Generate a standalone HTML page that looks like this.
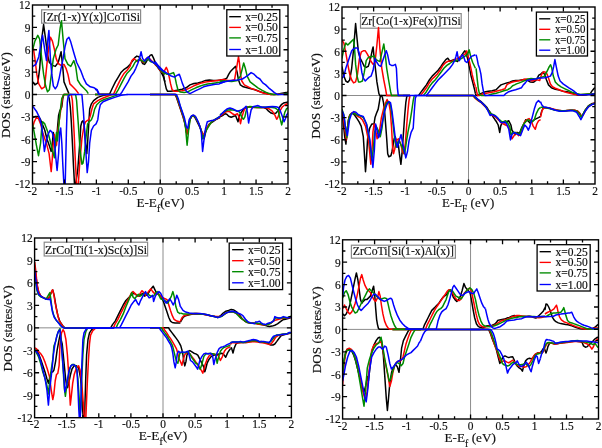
<!DOCTYPE html>
<html><head><meta charset="utf-8"><style>
html,body{margin:0;padding:0;background:#fff;width:602px;height:448px;overflow:hidden}
svg{display:block;will-change:transform;filter:blur(0.3px)}
text{font-family:"Liberation Serif",serif;fill:#111;stroke:#111;stroke-width:0.18px}
.tl{font-size:12px}
.lab{font-size:12px}
.leg{font-size:11.8px}
.ax{font-size:13px}
</style></head><body>
<svg width="602" height="448" viewBox="0 0 602 448">
<defs><clipPath id="cp1"><rect x="32.5" y="5" width="255.5" height="179"/></clipPath><clipPath id="cp2"><rect x="342" y="7" width="253" height="177"/></clipPath><clipPath id="cp3"><rect x="34.6" y="238" width="256.79999999999995" height="179.7"/></clipPath><clipPath id="cp4"><rect x="342.6" y="239.8" width="255.89999999999998" height="179.2"/></clipPath></defs>
<rect width="602" height="448" fill="#fff"/>
<line x1="160.25" y1="5" x2="160.25" y2="184" stroke="#8c8c8c" stroke-width="1.0"/>
<line x1="32.5" y1="94.5" x2="288" y2="94.5" stroke="#8c8c8c" stroke-width="1.0"/>
<rect x="41.6" y="9.8" width="99" height="13.4" fill="#fff" stroke="#8a8a8a" stroke-width="1.2"/>
<text x="42.9" y="20.6" textLength="97" lengthAdjust="spacingAndGlyphs" class="lab">[Zr(1-x)Y(x)]CoTiSi</text>
<g clip-path="url(#cp1)" fill="none" stroke-width="1.5" stroke-linejoin="round">
<path d="M32.9,81.9 L34.9,84.9 L37.8,82.9 L39.7,68.3 L41.7,39.2 L43.6,24.6 L45.6,39.2 L47.5,54.7 L49.4,62.5 L52.4,65.4 L55.3,66.4 L58.2,62.5 L61.1,51.8 L62.7,66.4 L64.0,81.9 L66.0,86.8 L68.9,93.6" stroke="#000000"/>
<path d="M95.0,94.4 L109.6,94.0 L112.5,87.8 L115.4,81.9 L118.3,77.1 L121.2,72.2 L124.2,69.3 L127.1,67.4 L130.0,64.4 L132.9,60.6 L134.9,57.6 L136.8,56.1 L138.8,56.7 L140.7,59.6 L142.6,63.5 L144.6,64.4 L146.5,61.5 L148.5,57.6 L150.4,55.1 L151.8,54.7 L153.3,57.6 L155.3,62.5 L157.2,66.4 L159.2,69.3 L161.1,72.2 L163.1,76.1 L165.0,81.9" stroke="#000000"/>
<path d="M155.0,63.5 L157.9,66.4 L159.9,68.3 L161.8,72.2 L163.8,76.1 L164.7,81.9 L166.3,88.8 L167.6,91.3 L170.6,91.3 L174.4,90.7 L178.3,90.1 L182.2,89.3 L186.1,87.8 L190.0,84.9 L193.9,83.5 L197.8,82.9 L201.7,81.9 L205.6,80.4 L209.4,80.0 L213.3,80.4 L217.2,80.4 L221.1,80.0 L225.0,79.6" stroke="#000000"/>
<path d="M220.0,80.0 L223.9,79.6 L226.8,78.1 L228.8,74.2 L230.7,71.2 L232.6,69.3 L235.6,66.4 L237.1,72.2 L238.5,80.0 L240.4,84.9 L243.3,86.8 L247.2,87.8 L251.1,88.8 L255.0,89.7 L258.9,91.3 L262.8,92.6 L266.7,93.6 L270.6,94.4 L274.4,94.4 L278.3,94.0 L282.2,93.2 L286.1,92.6 L289.0,91.7" stroke="#000000"/>
<path d="M32.5,117.5 L35.3,116.5 L38.5,116.5 L40.6,119.7 L42.7,125.0 L44.8,130.3 L46.9,138.7 L49.1,145.1 L51.2,151.4 L52.2,145.1 L53.3,132.4 L54.4,138.7 L55.4,147.2 L56.5,140.8 L57.5,128.1 L58.6,115.4 L59.7,111.2 L61.8,106.9 L62.8,98.5 L63.9,94.4 L68.1,94.4 L69.2,98.5 L70.3,106.9 L71.3,121.8 L72.4,143.0 L73.4,164.2 L74.5,184.3 L75.6,184.3 L77.7,170.5 L79.8,143.0 L80.8,126.0 L81.9,121.8 L83.0,120.7 L84.0,123.9 L85.5,143.0 L86.8,153.6 L87.6,143.0 L88.9,121.8 L89.7,109.1 L91.4,103.8 L93.6,100.6 L97.8,97.4 L102.0,95.9 L106.3,94.7 L110.5,94.4" stroke="#000000"/>
<path d="M150.0,94.5 L175.0,94.5 L176.5,97.4 L178.6,103.8 L180.8,110.2 L182.9,116.5 L185.0,123.9 L186.5,132.4 L187.8,132.4 L189.2,121.8 L191.4,116.5 L193.5,115.9 L195.6,118.6 L197.7,122.9 L199.8,127.1 L202.0,132.4 L204.1,138.8 L205.6,132.4 L207.3,127.1 L209.4,123.9 L212.6,121.8 L215.8,119.7 L220.0,117.6" stroke="#000000"/>
<path d="M220.0,116.8 L222.5,115.6 L225.0,113.7 L226.8,114.3 L228.7,116.2 L231.2,117.2 L233.7,116.2 L235.6,115.6 L236.8,118.7 L238.0,121.8 L239.3,116.2 L241.2,112.4 L243.7,109.3 L246.1,107.5 L248.6,106.8 L252.4,107.2 L256.1,107.5 L259.9,107.5 L263.6,107.5 L266.1,108.5 L268.6,111.2 L271.1,113.1 L273.6,113.7 L276.0,113.1 L277.9,110.6 L279.8,106.8 L281.7,104.3 L283.5,103.1 L286.0,102.5 L288.5,101.9" stroke="#000000"/>
<path d="M32.9,45.0 L34.9,58.6 L36.8,74.2 L38.8,83.9 L41.7,88.8 L44.6,86.8 L46.5,68.3 L48.5,48.9 L50.4,37.2 L52.4,41.1 L54.3,48.9 L56.2,58.6 L58.2,63.5 L61.1,65.4 L64.0,64.4 L66.0,68.3 L67.9,74.2 L69.9,83.9 L72.8,86.8 L75.7,89.7 L78.6,93.6" stroke="#ff0000"/>
<path d="M95.0,94.4 L113.5,94.4 L116.4,87.8 L118.3,83.9 L121.2,78.1 L124.2,73.2 L127.1,70.3 L130.0,66.4 L131.9,60.6 L133.9,58.6 L135.8,60.2 L137.8,61.5 L139.7,59.6 L141.7,60.6 L143.6,62.5 L145.6,59.6 L147.5,57.6 L149.4,58.6 L151.4,60.6 L153.3,62.5 L155.3,64.4 L157.2,66.4 L159.2,69.3 L162.1,72.2 L165.0,74.2" stroke="#ff0000"/>
<path d="M155.0,64.4 L158.9,68.3 L162.8,72.2 L164.7,70.3 L166.3,67.4 L167.6,70.3 L169.0,76.1 L170.6,83.9 L172.1,89.7 L174.4,91.3 L178.3,91.3 L182.2,90.7 L186.1,89.7 L190.0,87.8 L193.9,85.8 L197.8,84.3 L201.7,82.9 L205.6,81.9 L209.4,81.6 L213.3,81.0 L217.2,80.4 L221.1,80.0 L225.0,79.6" stroke="#ff0000"/>
<path d="M220.0,80.0 L223.9,79.6 L227.8,80.4 L231.7,80.4 L234.6,79.6 L236.5,68.3 L238.5,56.7 L239.4,62.5 L240.4,74.2 L241.8,81.0 L244.3,84.9 L248.2,86.8 L252.1,88.8 L256.0,90.1 L259.9,91.7 L263.8,93.2 L267.6,94.0 L271.5,94.4 L276.4,94.4 L282.2,94.0 L288.1,93.6" stroke="#ff0000"/>
<path d="M32.5,128.1 L34.2,121.8 L36.4,117.5 L38.5,118.6 L40.6,123.9 L42.7,132.4 L44.8,138.7 L46.9,145.1 L49.1,153.6 L51.2,171.6 L52.2,159.9 L53.3,143.0 L54.4,134.5 L55.4,140.8 L56.5,145.1 L57.5,132.4 L59.7,117.5 L61.8,102.7 L62.8,96.4 L63.9,94.4 L71.3,94.4 L72.4,100.6 L74.1,132.4 L75.3,159.9 L76.6,184.3 L78.3,184.3 L79.8,162.0 L81.9,138.7 L84.0,126.0 L85.5,121.8 L87.2,120.7 L88.9,119.7 L90.4,115.4 L91.9,109.1 L93.6,103.8 L97.8,100.6 L102.0,98.5 L106.3,96.8 L112.6,94.4" stroke="#ff0000"/>
<path d="M150.0,94.5 L175.5,94.5 L177.2,98.5 L179.3,104.8 L181.4,111.2 L183.5,117.6 L185.4,125.0 L186.9,134.5 L188.2,130.3 L189.9,119.7 L192.0,115.9 L194.1,115.5 L196.2,118.6 L198.4,122.9 L200.5,128.2 L202.6,134.5 L204.1,133.5 L206.2,129.2 L208.3,126.1 L211.5,121.8 L214.7,119.7 L220.0,117.2" stroke="#ff0000"/>
<path d="M220.0,116.2 L222.5,114.3 L225.0,112.4 L227.5,111.2 L230.0,111.8 L232.4,113.7 L234.9,114.9 L237.4,113.7 L239.3,117.4 L240.5,123.7 L241.8,117.4 L243.7,111.2 L245.5,107.5 L248.6,106.8 L252.4,107.2 L256.1,107.5 L259.9,107.5 L264.8,107.5 L267.3,108.1 L269.8,109.3 L272.3,111.2 L274.8,114.9 L276.7,119.3 L277.9,117.4 L279.8,111.2 L282.3,106.8 L284.8,105.0 L288.5,103.1" stroke="#ff0000"/>
<path d="M32.9,48.9 L34.9,41.1 L37.8,35.3 L39.7,39.2 L41.7,58.6 L43.6,74.2 L45.6,85.8 L47.5,91.7 L49.4,89.7 L51.4,74.2 L53.3,58.6 L56.2,48.9 L58.2,45.0 L60.1,28.5 L61.5,20.7 L63.1,39.2 L65.0,58.6 L67.9,64.4 L70.8,66.4 L73.8,60.6 L75.7,66.4 L77.6,80.0 L80.6,84.9 L83.5,87.8 L86.4,90.7 L88.3,93.6" stroke="#008b00"/>
<path d="M95.0,94.4 L115.4,94.4 L118.3,89.7 L121.2,83.9 L124.2,78.1 L127.1,73.2 L130.0,70.3 L132.9,66.4 L134.9,62.5 L136.8,60.6 L138.8,59.6 L141.7,60.6 L144.6,62.1 L147.5,58.6 L150.4,61.5 L153.3,62.5 L155.3,63.5 L157.2,65.4 L160.1,69.3 L163.1,72.2 L165.0,74.2" stroke="#008b00"/>
<path d="M155.0,63.5 L158.9,68.3 L162.8,72.2 L166.7,74.2 L170.6,73.8 L173.5,72.6 L174.8,76.1 L176.4,83.9 L177.9,89.7 L180.3,92.1 L184.2,92.6 L188.1,91.7 L191.9,89.7 L195.8,87.8 L199.7,86.2 L203.6,84.9 L207.5,83.9 L211.4,83.5 L215.3,82.9 L219.2,82.3 L223.1,81.6 L225.0,81.0" stroke="#008b00"/>
<path d="M220.0,81.0 L225.8,81.0 L231.7,81.6 L237.5,80.4 L240.4,76.1 L242.4,68.3 L243.7,62.9 L245.3,68.3 L247.2,76.1 L250.1,81.9 L254.0,84.9 L257.9,87.8 L261.8,90.1 L265.7,92.1 L269.6,93.6 L273.5,94.4 L278.3,94.4 L284.2,94.0 L289.0,93.2" stroke="#008b00"/>
<path d="M32.5,123.9 L34.2,132.4 L36.4,145.1 L38.5,155.7 L40.6,143.0 L41.7,128.1 L42.7,121.8 L44.8,123.9 L48.0,132.4 L50.1,140.8 L52.2,149.3 L54.4,157.8 L55.4,143.0 L56.5,132.4 L57.5,140.8 L59.7,115.4 L61.8,98.5 L63.9,94.4 L75.6,94.4 L76.6,100.6 L78.3,123.9 L80.0,149.3 L81.9,164.2 L83.0,163.1 L84.7,151.4 L86.1,136.6 L87.6,123.9 L89.3,121.8 L91.4,119.7 L93.1,115.4 L94.6,109.1 L96.7,104.8 L99.9,101.7 L104.2,99.5 L110.5,97.4 L119.0,94.4" stroke="#008b00"/>
<path d="M150.0,94.5 L175.9,94.5 L177.6,98.5 L179.7,104.8 L181.8,111.2 L183.9,117.6 L185.6,128.2 L187.1,145.2 L188.6,130.3 L190.3,118.6 L192.4,115.5 L194.5,115.9 L196.7,119.3 L198.8,123.5 L200.9,129.2 L202.6,138.8 L204.1,135.6 L206.2,130.3 L208.3,127.1 L211.5,121.8 L214.7,119.7 L220.0,116.5" stroke="#008b00"/>
<path d="M220.0,114.9 L222.5,113.1 L225.0,111.2 L227.5,110.0 L230.6,109.7 L233.1,110.0 L235.6,110.6 L237.4,111.2 L239.3,111.8 L240.5,113.7 L241.8,117.4 L243.4,119.3 L244.9,116.8 L246.1,111.2 L247.4,107.5 L249.9,106.5 L252.4,106.8 L256.1,107.2 L261.1,107.5 L264.8,107.2 L268.6,107.2 L272.3,107.5 L275.4,108.1 L277.9,110.0 L279.8,117.4 L281.7,124.9 L282.9,119.9 L284.8,112.4 L286.6,108.7 L288.5,107.5" stroke="#008b00"/>
<path d="M32.9,66.4 L35.8,64.4 L38.8,56.7 L40.7,45.0 L42.6,35.3 L44.6,48.9 L46.5,60.6 L47.9,39.2 L48.9,30.4 L50.4,58.6 L51.8,74.2 L53.3,85.8 L55.3,88.8 L57.2,85.8 L59.2,78.1 L61.1,68.3 L63.1,58.6 L65.0,46.9 L66.9,39.2 L68.9,37.2 L70.8,42.1 L73.8,52.8 L76.7,62.5 L80.6,70.3 L83.5,78.1 L86.4,83.9 L90.3,86.8 L94.2,87.8 L97.1,89.7 L99.0,93.6" stroke="#0000ff"/>
<path d="M95.0,89.3 L96.9,90.1 L98.9,94.4 L120.3,94.4 L122.2,91.7 L125.1,86.8 L128.1,81.9 L131.0,76.1 L133.9,72.2 L135.8,68.3 L137.8,63.5 L139.7,57.6 L141.1,51.8 L142.6,58.6 L144.6,60.9 L146.5,58.6 L148.5,56.7 L150.4,60.6 L153.3,62.5 L156.2,64.4 L159.2,68.3 L162.1,70.3 L165.0,72.2" stroke="#0000ff"/>
<path d="M155.0,61.5 L158.9,66.4 L162.8,70.3 L166.7,73.2 L170.6,75.7 L174.4,77.1 L177.4,75.1 L179.3,74.2 L180.7,78.1 L182.2,82.9 L184.2,87.8 L186.1,90.7 L188.1,92.6 L190.0,93.6 L191.9,92.6 L195.8,90.7 L199.7,88.8 L203.6,86.8 L207.5,85.8 L211.4,84.9 L215.3,84.3 L219.2,83.9 L223.1,82.3 L225.0,81.6" stroke="#0000ff"/>
<path d="M220.0,82.9 L225.8,81.6 L231.7,80.4 L237.5,80.0 L242.4,79.0 L245.3,77.1 L248.2,75.1 L251.1,72.6 L254.0,74.2 L256.9,77.1 L259.9,79.0 L262.8,82.9 L265.7,84.9 L268.6,87.8 L271.5,90.1 L274.4,92.6 L277.4,94.4 L282.2,94.4 L288.1,94.4" stroke="#0000ff"/>
<path d="M32.5,105.9 L36.4,111.2 L39.5,117.5 L41.7,126.0 L43.1,138.7 L44.4,151.4 L45.9,143.0 L48.0,134.5 L50.1,130.3 L52.2,132.4 L54.4,140.8 L55.8,157.8 L57.1,170.5 L58.6,153.6 L59.7,132.4 L60.7,128.1 L61.8,143.0 L62.8,164.2 L63.9,184.3 L65.2,184.3 L66.4,132.4 L67.3,102.7 L68.1,96.4 L70.3,94.4 L81.9,94.4 L83.4,111.2 L84.7,132.4 L85.7,149.3 L87.2,172.6 L88.5,162.0 L89.7,143.0 L91.4,130.3 L93.6,126.0 L96.1,123.9 L97.8,119.7 L98.9,111.2 L100.3,104.8 L103.1,101.7 L108.4,99.5 L114.7,97.4 L121.1,95.3 L127.5,94.4" stroke="#0000ff"/>
<path d="M126.7,94.5 L176.5,94.5 L178.2,98.5 L180.3,105.9 L182.5,112.3 L184.6,118.6 L186.5,127.1 L187.8,128.2 L189.2,119.7 L191.4,115.9 L193.5,115.0 L195.6,116.5 L197.7,120.8 L199.8,126.1 L201.3,132.4 L202.6,151.5 L204.1,138.8 L205.6,128.2 L207.3,121.8 L210.5,120.8 L213.6,120.3 L216.8,118.6 L220.0,116.5" stroke="#0000ff"/>
<path d="M220.0,115.6 L222.5,113.1 L225.0,110.6 L227.5,108.7 L230.0,108.1 L232.4,108.7 L234.9,110.0 L237.4,111.2 L239.9,110.6 L242.4,109.3 L244.9,107.5 L246.1,106.2 L247.4,112.4 L248.6,123.0 L249.9,116.2 L251.1,110.0 L253.0,106.8 L256.1,106.0 L258.0,105.6 L259.9,106.5 L262.3,107.2 L264.8,107.2 L268.6,106.8 L272.3,106.5 L276.0,106.8 L278.5,107.5 L280.4,111.2 L282.3,116.2 L284.1,121.8 L285.4,118.7 L286.6,114.9 L288.5,112.4" stroke="#0000ff"/>
</g>
<rect x="32.5" y="5" width="255.5" height="179" fill="none" stroke="#000" stroke-width="1.4"/>
<path d="M48.47,184v-2.8M48.47,5v2.8M64.44,184v-4.5M64.44,5v4.5M80.41,184v-2.8M80.41,5v2.8M96.38,184v-4.5M96.38,5v4.5M112.34,184v-2.8M112.34,5v2.8M128.31,184v-4.5M128.31,5v4.5M144.28,184v-2.8M144.28,5v2.8M160.25,184v-4.5M160.25,5v4.5M176.22,184v-2.8M176.22,5v2.8M192.19,184v-4.5M192.19,5v4.5M208.16,184v-2.8M208.16,5v2.8M224.12,184v-4.5M224.12,5v4.5M240.09,184v-2.8M240.09,5v2.8M256.06,184v-4.5M256.06,5v4.5M272.03,184v-2.8M272.03,5v2.8M32.5,172.81h2.8M288,172.81h-2.8M32.5,161.62h4.5M288,161.62h-4.5M32.5,150.44h2.8M288,150.44h-2.8M32.5,139.25h4.5M288,139.25h-4.5M32.5,128.06h2.8M288,128.06h-2.8M32.5,116.88h4.5M288,116.88h-4.5M32.5,105.69h2.8M288,105.69h-2.8M32.5,94.5h4.5M288,94.5h-4.5M32.5,83.31h2.8M288,83.31h-2.8M32.5,72.12h4.5M288,72.12h-4.5M32.5,60.94h2.8M288,60.94h-2.8M32.5,49.75h4.5M288,49.75h-4.5M32.5,38.56h2.8M288,38.56h-2.8M32.5,27.38h4.5M288,27.38h-4.5M32.5,16.19h2.8M288,16.19h-2.8" stroke="#000" stroke-width="1.3" fill="none"/>
<text x="30.5" y="188.4" text-anchor="end" textLength="15.20" lengthAdjust="spacingAndGlyphs" class="tl">-12</text>
<text x="30.5" y="166.03" text-anchor="end" textLength="9.50" lengthAdjust="spacingAndGlyphs" class="tl">-9</text>
<text x="30.5" y="143.65" text-anchor="end" textLength="9.50" lengthAdjust="spacingAndGlyphs" class="tl">-6</text>
<text x="30.5" y="121.28" text-anchor="end" textLength="9.50" lengthAdjust="spacingAndGlyphs" class="tl">-3</text>
<text x="30.5" y="98.9" text-anchor="end" textLength="5.70" lengthAdjust="spacingAndGlyphs" class="tl">0</text>
<text x="30.5" y="76.53" text-anchor="end" textLength="5.70" lengthAdjust="spacingAndGlyphs" class="tl">3</text>
<text x="30.5" y="54.15" text-anchor="end" textLength="5.70" lengthAdjust="spacingAndGlyphs" class="tl">6</text>
<text x="30.5" y="31.77" text-anchor="end" textLength="5.70" lengthAdjust="spacingAndGlyphs" class="tl">9</text>
<text x="30.5" y="9.4" text-anchor="end" textLength="11.40" lengthAdjust="spacingAndGlyphs" class="tl">12</text>
<text x="32.5" y="194.6" text-anchor="middle" textLength="9.50" lengthAdjust="spacingAndGlyphs" class="tl">-2</text>
<text x="64.44" y="194.6" text-anchor="middle" textLength="18.05" lengthAdjust="spacingAndGlyphs" class="tl">-1.5</text>
<text x="96.38" y="194.6" text-anchor="middle" textLength="9.50" lengthAdjust="spacingAndGlyphs" class="tl">-1</text>
<text x="128.31" y="194.6" text-anchor="middle" textLength="18.05" lengthAdjust="spacingAndGlyphs" class="tl">-0.5</text>
<text x="160.25" y="194.6" text-anchor="middle" textLength="5.70" lengthAdjust="spacingAndGlyphs" class="tl">0</text>
<text x="192.19" y="194.6" text-anchor="middle" textLength="14.25" lengthAdjust="spacingAndGlyphs" class="tl">0.5</text>
<text x="224.12" y="194.6" text-anchor="middle" textLength="5.70" lengthAdjust="spacingAndGlyphs" class="tl">1</text>
<text x="256.06" y="194.6" text-anchor="middle" textLength="14.25" lengthAdjust="spacingAndGlyphs" class="tl">1.5</text>
<text x="288" y="194.6" text-anchor="middle" textLength="5.70" lengthAdjust="spacingAndGlyphs" class="tl">2</text>
<rect x="226.8" y="9.7" width="53" height="46.3" fill="#fff" stroke="#000" stroke-width="1.3"/>
<line x1="229.2" y1="16.7" x2="240.9" y2="16.7" stroke="#000000" stroke-width="1.35"/>
<text x="245.2" y="20.7" textLength="32.6" lengthAdjust="spacingAndGlyphs" class="leg">x=0.25</text>
<line x1="229.2" y1="27.4" x2="240.9" y2="27.4" stroke="#ff0000" stroke-width="1.35"/>
<text x="245.2" y="31.4" textLength="32.6" lengthAdjust="spacingAndGlyphs" class="leg">x=0.50</text>
<line x1="229.2" y1="37.9" x2="240.9" y2="37.9" stroke="#008b00" stroke-width="1.35"/>
<text x="245.2" y="41.9" textLength="32.6" lengthAdjust="spacingAndGlyphs" class="leg">x=0.75</text>
<line x1="229.2" y1="49.5" x2="240.9" y2="49.5" stroke="#0000ff" stroke-width="1.35"/>
<text x="245.2" y="53.5" textLength="32.6" lengthAdjust="spacingAndGlyphs" class="leg">x=1.00</text>
<text x="136.4" y="206.6" textLength="47.9" lengthAdjust="spacingAndGlyphs" class="ax">E-E<tspan dy="4.9" font-size="9.6">f</tspan><tspan dy="-4.9">(eV)</tspan></text>
<text transform="translate(10,138.1) rotate(-90)" x="0" y="0" textLength="85.9" lengthAdjust="spacingAndGlyphs" class="ax">DOS (states/eV)</text>
<line x1="468.5" y1="7" x2="468.5" y2="184" stroke="#8c8c8c" stroke-width="1.0"/>
<line x1="342" y1="95.5" x2="595" y2="95.5" stroke="#8c8c8c" stroke-width="1.0"/>
<rect x="360.5" y="13.6" width="100.7" height="14.6" fill="#fff" stroke="#8a8a8a" stroke-width="1.2"/>
<text x="361.2" y="24.7" textLength="99.6" lengthAdjust="spacingAndGlyphs" class="lab">Zr[Co(1-x)Fe(x)]TiSi</text>
<g clip-path="url(#cp2)" fill="none" stroke-width="1.5" stroke-linejoin="round">
<path d="M341.9,66.4 L343.9,76.1 L345.8,81.0 L347.8,82.3 L349.7,80.0 L351.7,68.3 L353.6,48.9 L355.6,23.6 L357.1,39.2 L358.5,52.8 L360.4,58.6 L362.4,62.5 L364.3,66.4 L366.2,67.4 L368.2,66.4 L370.1,60.6 L372.1,50.8 L373.1,46.9 L374.0,56.7 L375.4,68.3 L376.9,81.9 L378.9,93.6 L379.9,95.6 L410.0,95.6" stroke="#000000"/>
<path d="M418.6,95.4 L420.6,92.6 L423.5,88.8 L426.4,84.9 L429.3,80.0 L432.2,76.1 L435.1,73.2 L438.1,70.3 L441.0,66.4 L442.9,63.5 L445.8,59.6 L447.8,58.2 L449.7,60.9 L451.7,60.6 L453.6,59.6 L455.6,60.6 L457.5,61.5 L459.4,58.6 L461.4,55.7 L463.3,52.8 L464.9,50.8 L466.2,53.8 L467.6,58.6 L469.2,66.4 L471.1,76.1 L473.1,83.9 L474.6,89.7 L475.4,93.6" stroke="#000000"/>
<path d="M475.3,93.6 L476.3,95.6 L477.6,95.6 L480.6,93.6 L484.4,92.1 L488.3,91.3 L492.2,90.7 L496.1,89.7 L499.0,86.8 L501.0,84.9 L503.9,83.9 L506.8,82.9 L509.7,82.3 L512.6,81.0 L515.6,80.4 L518.5,80.4 L521.4,80.0 L524.3,79.6 L527.2,80.0 L530.1,81.9 L533.1,82.3 L535.4,81.0" stroke="#000000"/>
<path d="M535.4,81.0 L536.8,79.0 L538.8,75.1 L540.7,74.2 L542.6,72.2 L544.6,74.2 L546.5,80.0 L548.5,84.9 L551.4,87.8 L555.3,89.3 L559.2,90.1 L563.1,91.3 L566.9,91.7 L570.8,92.6 L574.7,94.0 L578.6,95.2 L582.5,95.2 L586.4,94.8 L590.3,93.6 L592.2,90.7 L594.2,88.2 L596.1,87.8" stroke="#000000"/>
<path d="M341.9,113.3 L343.2,121.8 L344.7,136.7 L345.9,144.1 L347.4,128.2 L348.9,117.6 L350.6,114.4 L352.7,113.3 L354.9,115.5 L357.0,118.6 L359.1,121.8 L361.2,126.1 L363.3,136.7 L364.4,153.7 L365.5,171.7 L366.5,157.9 L367.6,138.8 L369.7,128.2 L371.8,124.0 L374.0,124.0 L375.0,117.6 L376.5,113.3 L378.2,109.1 L379.3,102.7 L380.3,96.4 L381.4,95.5 L382.4,97.4 L383.5,102.7 L384.6,111.2 L385.6,124.0 L386.7,138.8 L387.7,153.7 L388.8,156.8 L390.9,155.8 L392.0,151.5 L393.1,145.2 L394.1,138.8 L395.2,136.7 L396.2,139.9 L397.3,143.1 L398.4,145.2 L399.4,153.7 L400.9,164.3 L402.0,153.7 L403.2,136.7 L404.7,115.5 L405.8,102.7 L406.8,96.4 L407.9,95.5" stroke="#000000"/>
<path d="M426.0,95.5 L472.7,95.5 L474.9,97.4 L478.0,99.5 L481.2,101.7 L484.4,104.9 L486.5,107.0 L488.6,110.2 L490.8,113.3 L492.9,116.5 L495.0,119.7 L496.5,121.8 L498.2,125.0 L499.7,132.4 L500.7,126.1 L502.4,121.8 L504.6,122.9 L506.7,121.8 L508.8,120.8 L510.9,125.0 L512.0,130.3 L513.5,132.4 L515.2,134.6 L517.3,132.4 L519.4,133.5 L521.5,128.2 L523.7,124.0 L525.8,119.7 L527.9,120.8 L530.0,122.9 L532.1,121.8 L534.3,119.7 L536.4,118.6 L538.5,117.6 L540.6,116.5" stroke="#000000"/>
<path d="M540.6,115.5 L541.7,111.2 L543.2,108.0 L545.9,107.4 L549.1,108.0 L553.3,109.5 L557.6,110.2 L561.8,110.8 L566.1,110.8 L570.3,110.2 L574.5,110.2 L577.7,111.2 L579.8,113.3 L581.3,116.5 L583.0,114.4 L585.2,110.2 L588.3,105.9 L591.5,103.8 L595.8,102.7" stroke="#000000"/>
<path d="M341.9,40.1 L343.9,43.1 L345.8,52.8 L347.8,64.4 L349.7,74.2 L351.7,80.0 L353.6,82.9 L355.6,81.9 L357.5,74.2 L359.4,58.6 L361.4,51.8 L363.3,50.8 L365.3,50.8 L367.2,53.8 L369.2,57.6 L371.1,61.5 L373.1,64.4 L375.0,62.5 L376.9,45.0 L378.5,27.5 L379.9,48.9 L381.8,68.3 L383.8,80.0 L385.7,89.7 L386.7,95.6 L410.0,95.6" stroke="#ff0000"/>
<path d="M420.6,95.4 L423.5,91.7 L426.4,87.8 L429.3,82.9 L432.2,79.0 L434.2,77.1 L437.1,74.2 L440.0,70.3 L442.9,65.4 L445.8,62.5 L448.8,60.9 L451.7,61.5 L454.6,59.6 L457.5,58.6 L460.4,56.7 L463.3,55.1 L465.3,53.8 L466.8,50.8 L468.2,56.7 L470.1,64.4 L472.1,74.2 L474.0,81.9 L475.4,86.8" stroke="#ff0000"/>
<path d="M475.9,86.8 L476.7,91.7 L477.6,95.6 L479.6,95.6 L482.5,94.0 L486.4,93.2 L490.3,92.6 L494.2,91.7 L498.1,90.7 L501.9,89.7 L504.9,88.8 L506.8,84.9 L508.8,83.5 L511.7,82.3 L514.6,81.6 L517.5,81.0 L520.4,80.4 L523.3,79.6 L526.2,79.0 L529.2,79.6 L532.1,81.0 L535.4,80.0" stroke="#ff0000"/>
<path d="M535.4,80.0 L537.8,80.0 L539.7,80.4 L541.7,74.2 L543.6,71.8 L545.6,72.2 L547.1,74.2 L548.5,78.1 L550.4,83.9 L552.4,86.8 L555.3,88.2 L559.2,89.7 L563.1,91.3 L566.9,92.6 L570.8,93.6 L574.7,94.4 L578.6,94.8 L584.4,94.4 L590.3,94.0 L596.1,93.6" stroke="#ff0000"/>
<path d="M341.9,110.2 L343.2,115.5 L344.7,128.2 L346.4,139.9 L348.1,121.8 L349.5,115.5 L351.7,112.9 L353.8,112.3 L355.9,114.4 L358.0,116.5 L360.2,117.6 L362.3,119.7 L365.5,126.1 L368.6,140.9 L370.8,164.3 L371.8,153.7 L372.9,132.4 L374.0,124.0 L375.0,126.1 L377.1,138.8 L379.3,132.4 L381.4,117.6 L383.5,109.1 L385.6,102.7 L387.1,99.5 L388.8,102.7 L390.3,111.2 L391.6,128.2 L392.6,147.3 L393.5,153.7 L394.7,149.4 L396.2,140.9 L398.4,138.8 L400.5,143.1 L402.6,151.5 L403.7,153.7 L405.4,143.1 L406.8,124.0 L407.9,111.2 L409.0,100.6 L410.0,95.5" stroke="#ff0000"/>
<path d="M426.0,95.5 L473.2,95.5 L475.3,98.5 L478.0,100.6 L481.2,102.7 L484.4,105.9 L486.5,108.0 L488.6,111.2 L490.8,114.4 L492.9,115.5 L495.0,116.5 L497.1,118.6 L499.3,120.8 L501.4,122.9 L503.5,124.0 L505.6,125.0 L507.7,126.1 L509.9,130.3 L512.0,138.8 L514.1,135.6 L516.2,132.4 L518.4,135.6 L520.5,133.5 L522.6,127.1 L524.7,121.8 L526.8,119.7 L529.0,118.6 L531.1,120.8 L533.2,126.1 L535.3,129.3 L536.8,124.0 L538.5,120.8 L540.6,119.7" stroke="#ff0000"/>
<path d="M540.6,117.2 L541.9,111.2 L543.2,108.7 L544.8,107.4 L549.1,108.0 L553.3,109.1 L557.6,110.2 L561.8,110.8 L566.1,110.6 L570.3,110.2 L574.5,110.2 L577.7,111.2 L580.3,114.4 L582.0,116.5 L584.1,113.3 L586.2,109.1 L589.4,105.9 L592.6,103.8 L595.8,102.7" stroke="#ff0000"/>
<path d="M341.9,58.6 L343.9,48.9 L345.8,43.1 L347.8,45.0 L349.7,43.1 L351.7,41.1 L353.6,39.2 L354.6,48.9 L355.6,64.4 L357.1,76.1 L358.5,81.9 L360.4,81.9 L362.4,81.0 L364.3,72.2 L366.2,60.6 L368.2,57.6 L370.1,56.7 L372.1,56.7 L374.0,55.7 L376.0,59.6 L377.9,60.6 L379.9,61.5 L381.8,52.8 L383.8,44.0 L385.1,52.8 L386.7,68.3 L388.6,80.0 L390.6,91.7 L391.5,95.6 L410.0,95.6" stroke="#008b00"/>
<path d="M423.5,95.4 L426.4,91.7 L429.3,86.8 L432.2,82.9 L435.1,80.0 L438.1,76.1 L441.0,72.2 L443.9,68.3 L446.8,65.4 L449.7,63.5 L452.6,61.5 L455.6,60.9 L458.5,59.6 L461.4,58.6 L464.3,56.7 L467.2,54.7 L469.2,49.9 L470.7,56.7 L472.7,62.5 L475.4,68.3" stroke="#008b00"/>
<path d="M476.1,68.3 L477.1,78.1 L478.2,87.8 L479.6,94.6 L481.5,95.6 L484.4,95.6 L488.3,95.2 L492.2,94.0 L496.1,93.2 L500.0,92.1 L503.9,90.7 L507.8,89.7 L510.7,87.8 L512.6,85.8 L514.6,84.9 L516.5,83.9 L519.4,82.9 L522.4,81.6 L525.3,80.4 L528.2,79.0 L531.1,78.4 L535.4,79.0" stroke="#008b00"/>
<path d="M535.4,79.0 L538.8,78.1 L541.7,77.1 L544.6,76.1 L547.5,70.3 L549.4,66.4 L550.6,64.8 L551.8,68.3 L553.3,76.1 L555.3,81.9 L558.2,84.9 L561.1,86.8 L565.0,88.8 L568.9,90.7 L572.8,92.6 L576.7,93.6 L580.6,94.4 L586.4,94.0 L596.1,94.0" stroke="#008b00"/>
<path d="M341.9,109.1 L343.8,114.4 L345.3,126.1 L346.8,137.7 L348.5,119.7 L350.2,114.4 L352.3,113.3 L354.9,113.8 L357.4,115.0 L360.2,115.9 L363.3,117.6 L366.5,124.0 L369.7,140.9 L371.8,160.0 L373.3,149.4 L374.6,132.4 L376.1,126.1 L378.2,130.3 L380.3,136.7 L382.0,128.2 L383.5,115.5 L385.0,107.0 L386.7,102.7 L388.8,101.7 L390.5,104.9 L392.0,115.5 L393.5,128.2 L394.7,138.8 L396.2,147.3 L397.3,143.1 L399.0,140.9 L401.1,145.2 L403.2,149.4 L404.7,153.7 L406.2,143.1 L407.9,132.4 L410.0,121.8 L411.7,111.2 L413.2,100.6 L414.3,95.5" stroke="#008b00"/>
<path d="M426.0,95.5 L473.6,95.5 L475.9,98.5 L478.7,100.6 L481.2,102.3 L484.4,105.3 L486.5,108.0 L488.6,111.2 L490.8,113.8 L492.9,114.4 L495.0,115.5 L497.1,117.6 L499.3,119.7 L501.4,121.4 L503.5,121.8 L505.6,120.8 L507.7,122.9 L509.9,127.1 L510.9,134.6 L513.1,132.4 L515.2,132.4 L517.3,133.5 L519.4,134.6 L521.5,129.3 L523.7,124.0 L525.8,121.8 L527.9,119.7 L530.0,120.8 L532.1,121.8 L534.3,119.7 L536.4,113.3 L538.5,109.1 L540.6,107.4" stroke="#008b00"/>
<path d="M540.6,107.4 L542.7,107.0 L547.0,108.0 L551.2,109.1 L555.5,110.2 L559.7,110.8 L563.9,110.8 L568.2,110.4 L572.4,110.2 L576.7,111.2 L579.8,114.4 L581.3,117.6 L583.0,114.4 L585.2,110.2 L588.3,106.5 L591.5,104.4 L595.8,103.2" stroke="#008b00"/>
<path d="M341.9,78.1 L343.9,76.1 L345.8,68.3 L347.8,62.5 L349.7,56.7 L351.7,50.8 L353.6,48.9 L355.6,47.9 L357.5,47.9 L359.1,52.8 L360.4,62.5 L361.8,72.2 L363.3,78.1 L365.3,81.0 L367.2,79.0 L369.2,77.1 L371.1,76.1 L373.1,70.3 L375.0,58.6 L376.9,62.5 L378.9,65.4 L380.8,66.4 L382.8,60.6 L384.7,54.7 L386.3,50.8 L387.6,54.7 L389.6,64.4 L391.5,65.4 L393.5,65.4 L395.4,64.4 L396.4,68.3 L397.4,87.8 L398.3,95.6 L410.0,95.6" stroke="#0000ff"/>
<path d="M403.1,95.4 L426.4,95.4 L429.3,91.7 L432.2,87.8 L435.1,83.9 L438.1,80.0 L441.0,77.1 L443.9,74.2 L446.8,71.2 L449.7,68.3 L452.6,64.4 L454.6,60.6 L455.9,56.7 L457.1,51.8 L458.1,57.6 L459.4,60.6 L461.0,56.7 L462.6,54.7 L463.9,57.6 L465.3,61.5 L466.8,62.5 L468.8,59.6 L471.1,56.7 L473.1,55.7 L475.4,54.7" stroke="#0000ff"/>
<path d="M476.1,54.7 L477.1,58.6 L478.2,64.4 L479.6,68.3 L480.9,74.2 L482.1,83.9 L483.5,91.7 L484.4,94.6 L485.4,95.6 L503.9,95.6 L505.8,93.6 L508.8,91.7 L511.7,90.7 L515.6,89.7 L518.5,88.8 L521.4,87.8 L523.3,84.9 L525.3,82.9 L527.2,80.4 L529.2,80.0 L532.1,79.6 L535.4,79.0" stroke="#0000ff"/>
<path d="M535.4,79.0 L538.8,78.1 L541.7,78.1 L544.6,77.7 L547.5,77.1 L550.4,76.1 L552.4,72.2 L553.7,66.4 L554.9,59.6 L556.2,66.4 L558.2,76.1 L560.1,81.0 L563.1,83.9 L566.0,85.8 L568.9,87.8 L571.8,89.7 L574.7,91.7 L576.7,93.6 L578.6,94.8 L584.4,94.8 L590.3,94.4 L596.1,93.6" stroke="#0000ff"/>
<path d="M341.9,110.2 L343.8,115.0 L345.3,126.1 L347.4,135.6 L349.5,119.7 L351.7,113.3 L353.8,111.6 L355.9,112.3 L358.0,114.4 L360.2,115.5 L363.3,116.5 L366.5,124.0 L369.7,138.8 L372.9,167.5 L374.4,149.4 L375.6,124.0 L377.1,130.3 L378.6,137.7 L380.3,132.4 L382.4,121.8 L384.6,111.2 L386.7,104.9 L388.8,101.7 L390.5,102.7 L392.0,111.2 L394.1,128.2 L395.6,140.9 L397.3,147.3 L399.4,139.9 L401.1,134.6 L402.6,143.1 L404.1,149.4 L405.8,157.9 L407.5,151.5 L409.0,140.9 L411.1,132.4 L413.2,128.2 L414.3,111.2 L415.3,98.5 L416.4,95.5" stroke="#0000ff"/>
<path d="M414.4,95.5 L474.0,95.5 L476.6,98.1 L479.1,100.6 L482.3,103.2 L485.0,105.9 L487.2,109.1 L488.6,112.3 L490.1,115.5 L491.8,114.4 L494.0,115.5 L496.1,116.5 L498.2,118.6 L500.3,121.8 L502.4,122.9 L504.6,121.8 L506.7,124.0 L508.8,129.3 L510.5,139.9 L512.0,134.6 L514.1,132.4 L516.2,133.5 L518.4,134.6 L520.5,135.6 L522.6,130.3 L524.7,125.0 L526.8,127.1 L528.3,130.3 L530.0,126.1 L532.1,117.6 L534.3,109.1 L536.4,102.7 L538.5,100.6 L540.6,102.7" stroke="#0000ff"/>
<path d="M540.6,101.7 L541.7,104.8 L543.8,107.0 L547.0,107.4 L551.2,108.7 L555.5,110.2 L559.7,111.2 L563.9,111.2 L568.2,110.8 L572.4,110.6 L576.7,112.3 L579.2,116.5 L580.9,119.7 L583.0,115.5 L585.2,111.2 L588.3,107.0 L591.5,104.8 L595.8,103.2" stroke="#0000ff"/>
</g>
<rect x="342" y="7" width="253" height="177" fill="none" stroke="#000" stroke-width="1.4"/>
<path d="M357.81,184v-2.8M357.81,7v2.8M373.62,184v-4.5M373.62,7v4.5M389.44,184v-2.8M389.44,7v2.8M405.25,184v-4.5M405.25,7v4.5M421.06,184v-2.8M421.06,7v2.8M436.88,184v-4.5M436.88,7v4.5M452.69,184v-2.8M452.69,7v2.8M468.5,184v-4.5M468.5,7v4.5M484.31,184v-2.8M484.31,7v2.8M500.12,184v-4.5M500.12,7v4.5M515.94,184v-2.8M515.94,7v2.8M531.75,184v-4.5M531.75,7v4.5M547.56,184v-2.8M547.56,7v2.8M563.38,184v-4.5M563.38,7v4.5M579.19,184v-2.8M579.19,7v2.8M342,172.94h2.8M595,172.94h-2.8M342,161.88h4.5M595,161.88h-4.5M342,150.81h2.8M595,150.81h-2.8M342,139.75h4.5M595,139.75h-4.5M342,128.69h2.8M595,128.69h-2.8M342,117.62h4.5M595,117.62h-4.5M342,106.56h2.8M595,106.56h-2.8M342,95.5h4.5M595,95.5h-4.5M342,84.44h2.8M595,84.44h-2.8M342,73.38h4.5M595,73.38h-4.5M342,62.31h2.8M595,62.31h-2.8M342,51.25h4.5M595,51.25h-4.5M342,40.19h2.8M595,40.19h-2.8M342,29.12h4.5M595,29.12h-4.5M342,18.06h2.8M595,18.06h-2.8" stroke="#000" stroke-width="1.3" fill="none"/>
<text x="340" y="188.4" text-anchor="end" textLength="15.20" lengthAdjust="spacingAndGlyphs" class="tl">-12</text>
<text x="340" y="166.28" text-anchor="end" textLength="9.50" lengthAdjust="spacingAndGlyphs" class="tl">-9</text>
<text x="340" y="144.15" text-anchor="end" textLength="9.50" lengthAdjust="spacingAndGlyphs" class="tl">-6</text>
<text x="340" y="122.03" text-anchor="end" textLength="9.50" lengthAdjust="spacingAndGlyphs" class="tl">-3</text>
<text x="340" y="99.9" text-anchor="end" textLength="5.70" lengthAdjust="spacingAndGlyphs" class="tl">0</text>
<text x="340" y="77.78" text-anchor="end" textLength="5.70" lengthAdjust="spacingAndGlyphs" class="tl">3</text>
<text x="340" y="55.65" text-anchor="end" textLength="5.70" lengthAdjust="spacingAndGlyphs" class="tl">6</text>
<text x="340" y="33.52" text-anchor="end" textLength="5.70" lengthAdjust="spacingAndGlyphs" class="tl">9</text>
<text x="340" y="11.4" text-anchor="end" textLength="11.40" lengthAdjust="spacingAndGlyphs" class="tl">12</text>
<text x="342" y="194.6" text-anchor="middle" textLength="9.50" lengthAdjust="spacingAndGlyphs" class="tl">-2</text>
<text x="373.62" y="194.6" text-anchor="middle" textLength="18.05" lengthAdjust="spacingAndGlyphs" class="tl">-1.5</text>
<text x="405.25" y="194.6" text-anchor="middle" textLength="9.50" lengthAdjust="spacingAndGlyphs" class="tl">-1</text>
<text x="436.88" y="194.6" text-anchor="middle" textLength="18.05" lengthAdjust="spacingAndGlyphs" class="tl">-0.5</text>
<text x="468.5" y="194.6" text-anchor="middle" textLength="5.70" lengthAdjust="spacingAndGlyphs" class="tl">0</text>
<text x="500.12" y="194.6" text-anchor="middle" textLength="14.25" lengthAdjust="spacingAndGlyphs" class="tl">0.5</text>
<text x="531.75" y="194.6" text-anchor="middle" textLength="5.70" lengthAdjust="spacingAndGlyphs" class="tl">1</text>
<text x="563.38" y="194.6" text-anchor="middle" textLength="14.25" lengthAdjust="spacingAndGlyphs" class="tl">1.5</text>
<text x="595" y="194.6" text-anchor="middle" textLength="5.70" lengthAdjust="spacingAndGlyphs" class="tl">2</text>
<rect x="536.4" y="12.1" width="51.1" height="43.9" fill="#fff" stroke="#000" stroke-width="1.3"/>
<line x1="539.2" y1="18.8" x2="550.3" y2="18.8" stroke="#000000" stroke-width="1.35"/>
<text x="554.9" y="22.8" textLength="30.5" lengthAdjust="spacingAndGlyphs" class="leg">x=0.25</text>
<line x1="539.2" y1="29.3" x2="550.3" y2="29.3" stroke="#ff0000" stroke-width="1.35"/>
<text x="554.9" y="33.3" textLength="30.5" lengthAdjust="spacingAndGlyphs" class="leg">x=0.50</text>
<line x1="539.2" y1="39.8" x2="550.3" y2="39.8" stroke="#008b00" stroke-width="1.35"/>
<text x="554.9" y="43.8" textLength="30.5" lengthAdjust="spacingAndGlyphs" class="leg">x=0.75</text>
<line x1="539.2" y1="50.2" x2="550.3" y2="50.2" stroke="#0000ff" stroke-width="1.35"/>
<text x="554.9" y="54.2" textLength="30.5" lengthAdjust="spacingAndGlyphs" class="leg">x=1.00</text>
<text x="442.1" y="206.9" textLength="52.1" lengthAdjust="spacingAndGlyphs" class="ax">E-E<tspan dy="4.9" font-size="9.6">F</tspan><tspan dy="-4.9"> (eV)</tspan></text>
<text transform="translate(320.4,138.8) rotate(-90)" x="0" y="0" textLength="85.7" lengthAdjust="spacingAndGlyphs" class="ax">DOS (states/eV)</text>
<line x1="163" y1="238" x2="163" y2="417.7" stroke="#8c8c8c" stroke-width="1.0"/>
<line x1="34.6" y1="327.85" x2="291.4" y2="327.85" stroke="#8c8c8c" stroke-width="1.0"/>
<rect x="44.2" y="242.2" width="103.4" height="13.8" fill="#fff" stroke="#8a8a8a" stroke-width="1.2"/>
<text x="45.1" y="253.7" textLength="102" lengthAdjust="spacingAndGlyphs" class="lab">ZrCo[Ti(1-x)Sc(x)]Si</text>
<g clip-path="url(#cp3)" fill="none" stroke-width="1.5" stroke-linejoin="round">
<path d="M34.7,265.7 L35.6,272.9 L37.0,285.4 L38.8,292.5 L40.9,296.1 L43.6,297.9 L46.3,299.3 L49.0,297.9 L51.3,292.5 L52.7,289.8 L54.3,296.1 L56.1,306.8 L57.9,315.7 L59.7,321.1 L61.5,323.8 L63.2,326.4 L65.0,327.9 L114.1,327.9" stroke="#000000"/>
<path d="M110.7,327.9 L112.5,324.6 L115.2,321.1 L117.9,315.7 L120.5,310.4 L123.2,305.0 L125.9,300.5 L128.6,297.9 L130.4,296.1 L132.1,294.3 L133.9,293.4 L135.7,294.3 L137.5,296.1 L139.3,296.1 L141.1,294.3 L142.9,293.4 L144.6,296.1 L146.4,295.2 L148.2,293.4 L150.0,290.7 L151.8,288.0 L153.2,286.2 L154.5,288.9 L156.2,292.5 L158.0,294.3 L159.8,295.2 L161.6,297.9 L163.4,301.4 L165.2,306.8 L167.0,312.1 L168.8,317.5 L170.5,321.1 L172.3,322.5 L175.0,322.9 L180.4,322.9" stroke="#000000"/>
<path d="M180.4,322.0 L183.0,317.5 L185.7,315.7 L189.3,314.8 L192.9,313.9 L196.4,313.9 L200.0,313.9 L203.6,314.3 L207.1,314.8 L210.7,315.7 L214.3,316.6 L217.9,317.5 L220.5,315.7 L223.2,313.0 L225.9,311.2 L228.6,310.4 L231.2,309.5 L233.9,310.0 L236.6,311.8 L239.3,314.8 L242.0,318.4 L244.6,321.1 L247.3,322.5 L250.0,322.9 L255.4,323.2" stroke="#000000"/>
<path d="M254.9,323.2 L258.9,323.9 L262.8,324.8 L266.8,325.9 L269.5,326.5 L272.1,326.1 L274.8,325.2 L277.5,323.9 L280.1,321.9 L282.8,319.9 L285.4,319.2 L288.1,318.6 L292.1,317.2" stroke="#000000"/>
<path d="M34.6,350.4 L36.4,350.4 L38.6,353.7 L40.7,359.2 L42.9,365.7 L45.1,372.3 L46.9,378.8 L48.4,383.2 L49.5,378.8 L51.2,372.3 L52.8,371.8 L53.9,370.1 L55.6,361.3 L57.1,350.4 L58.7,341.7 L60.0,335.1 L62.2,343.9 L63.9,361.3 L65.4,376.6 L66.5,385.4 L67.6,387.6 L68.7,383.2 L70.5,374.5 L72.0,369.0 L74.2,365.7 L76.4,365.7 L78.6,367.9 L80.7,378.8 L81.8,394.1 L82.9,413.8 L83.6,419.3 L84.5,419.3 L85.8,376.6 L86.6,354.8 L88.0,339.5 L89.5,332.9 L91.7,329.7 L93.9,327.9 L112.9,327.9" stroke="#000000"/>
<path d="M150.0,327.8 L168.6,327.8 L169.9,330.0 L171.9,332.6 L173.9,335.3 L175.9,337.9 L177.9,340.6 L179.5,343.3 L180.8,345.9 L181.9,349.9 L183.0,355.2 L183.9,361.9 L184.8,365.9 L185.9,361.9 L186.9,355.2 L188.5,351.2 L189.9,350.6 L191.9,351.9 L193.9,353.2 L195.8,353.9 L197.8,355.2 L199.8,359.2 L201.8,363.2 L203.8,367.2 L204.8,371.8 L205.8,368.5 L207.1,363.2 L209.1,359.2 L211.1,356.6 L213.8,355.2 L216.4,354.6 L219.1,353.9 L221.8,353.2 L223.8,354.6 L225.7,357.2 L227.7,352.6 L230.4,348.6" stroke="#000000"/>
<path d="M230.4,348.5 L231.5,347.9 L233.0,353.1 L234.3,347.9 L236.0,344.0 L237.9,342.7 L240.5,342.4 L243.1,342.4 L245.7,342.4 L248.3,342.1 L250.9,341.4 L253.5,341.1 L256.1,341.1 L258.6,341.4 L261.2,341.4 L263.8,342.1 L266.4,342.7 L269.0,344.0 L270.9,345.0 L272.9,345.0 L274.8,344.0 L276.8,341.4 L278.7,338.8 L280.6,336.2 L283.2,334.9 L285.8,334.3 L288.4,333.6 L292.3,333.0" stroke="#000000"/>
<path d="M34.7,262.1 L35.6,269.3 L36.5,278.2 L37.4,285.4 L38.8,292.5 L40.9,296.1 L43.6,297.9 L46.3,298.8 L49.0,297.9 L50.8,293.4 L52.5,289.8 L53.8,294.3 L55.2,303.2 L57.0,312.1 L58.8,319.3 L60.6,322.9 L62.4,325.5 L64.1,327.9 L114.1,327.9" stroke="#ff0000"/>
<path d="M113.4,327.9 L115.2,323.8 L117.9,319.3 L120.5,313.9 L123.2,308.6 L125.9,303.2 L127.7,300.5 L129.5,297.0 L131.2,293.4 L133.0,291.6 L134.8,293.4 L136.6,295.2 L138.4,296.1 L140.2,293.4 L142.0,290.7 L143.8,292.5 L145.5,295.2 L147.3,293.4 L149.1,290.7 L150.9,288.9 L152.7,291.6 L154.5,293.4 L156.2,294.3 L158.0,293.4 L159.8,295.2 L161.6,297.0 L163.4,297.9 L165.2,298.8 L167.0,299.6 L168.8,305.0 L170.5,310.4 L172.3,315.7 L174.1,319.3 L176.8,321.1 L180.4,322.0" stroke="#ff0000"/>
<path d="M180.4,321.1 L182.1,317.5 L183.9,315.7 L187.5,314.8 L191.1,313.9 L194.6,313.6 L198.2,313.6 L201.8,313.9 L205.4,314.8 L208.9,315.4 L212.5,316.1 L216.1,316.6 L219.6,316.6 L222.3,315.7 L225.0,313.9 L227.7,312.1 L230.4,311.8 L233.0,312.1 L235.7,313.0 L238.4,314.8 L241.1,318.4 L243.8,320.2 L246.4,322.0 L250.0,322.9 L255.4,323.2" stroke="#ff0000"/>
<path d="M254.9,323.2 L258.9,324.3 L262.8,324.8 L265.5,324.8 L268.2,324.3 L270.8,323.2 L273.5,321.2 L276.1,319.9 L278.8,319.2 L281.4,318.6 L284.1,318.2 L286.8,317.9 L289.4,317.6 L292.1,317.2" stroke="#ff0000"/>
<path d="M34.6,347.8 L36.4,348.7 L38.6,351.5 L40.7,353.7 L42.9,357.0 L45.1,362.4 L47.3,369.0 L49.5,376.6 L51.2,389.8 L52.8,399.6 L53.9,394.1 L55.2,381.0 L56.5,374.5 L57.8,373.4 L59.1,365.7 L60.0,343.9 L61.5,332.9 L63.0,329.7 L64.3,331.8 L65.9,339.5 L67.4,354.8 L68.7,374.5 L69.6,391.9 L70.3,405.1 L71.3,396.3 L72.7,383.2 L74.2,374.5 L76.4,367.9 L78.6,365.7 L80.1,370.1 L81.8,383.2 L83.1,400.7 L84.5,419.3 L85.8,419.3 L87.3,383.2 L88.4,361.3 L89.5,343.9 L90.6,335.1 L92.8,330.7 L95.0,328.6 L97.1,327.9 L112.9,327.9" stroke="#ff0000"/>
<path d="M150.0,327.8 L163.3,327.8 L164.6,330.0 L166.6,332.6 L168.6,336.0 L170.6,338.6 L172.6,341.9 L174.6,345.3 L176.6,349.2 L177.9,353.9 L179.2,359.2 L180.6,361.9 L181.9,365.2 L183.2,359.9 L184.6,355.2 L185.9,353.2 L187.9,352.3 L189.9,353.9 L191.9,356.6 L193.9,359.2 L195.8,361.9 L197.8,364.5 L199.8,367.8 L201.8,371.2 L202.8,373.2 L203.8,369.8 L205.1,364.5 L207.1,359.2 L209.1,355.9 L211.1,354.6 L213.1,353.9 L215.8,354.6 L218.4,355.9 L220.4,360.5 L222.4,356.6 L224.4,351.2 L226.4,348.6 L230.4,346.6" stroke="#ff0000"/>
<path d="M230.4,344.6 L231.5,342.7 L234.1,342.7 L236.6,343.0 L239.2,342.7 L241.8,342.4 L244.4,342.4 L247.0,342.4 L249.6,342.1 L252.2,341.7 L254.8,341.7 L257.3,342.1 L259.9,342.4 L262.5,342.7 L265.1,343.3 L267.7,344.0 L269.6,344.6 L271.6,343.3 L273.5,340.8 L275.5,337.5 L278.0,335.6 L280.6,334.9 L283.2,334.3 L285.8,333.9 L288.4,333.4 L292.3,333.0" stroke="#ff0000"/>
<path d="M34.7,274.6 L35.6,281.8 L37.0,290.7 L38.8,295.2 L40.9,297.0 L43.6,297.9 L46.3,298.8 L48.4,295.2 L49.9,292.5 L50.9,299.6 L52.0,308.6 L53.8,315.7 L56.1,320.2 L58.8,322.9 L61.5,326.4 L64.1,327.9 L114.1,327.9" stroke="#008b00"/>
<path d="M116.1,327.9 L117.9,323.8 L120.5,319.3 L123.2,313.9 L125.9,306.8 L128.6,300.5 L130.4,296.1 L131.8,292.5 L133.0,297.0 L134.8,298.8 L136.6,296.1 L138.4,294.3 L140.2,296.1 L142.9,294.3 L145.5,293.4 L148.2,294.3 L150.9,296.1 L153.6,296.1 L155.4,293.4 L157.1,291.6 L158.9,295.2 L160.7,298.8 L162.5,299.6 L164.3,300.5 L166.1,301.4 L167.9,303.2 L169.6,299.6 L171.4,296.1 L172.9,291.6 L174.1,296.1 L175.9,306.8 L177.7,312.1 L180.4,313.9" stroke="#008b00"/>
<path d="M180.4,313.0 L183.0,313.9 L185.7,313.9 L189.3,313.9 L192.9,313.6 L196.4,313.6 L200.0,313.9 L203.6,314.3 L207.1,314.8 L210.7,315.7 L214.3,316.6 L217.9,317.5 L221.4,316.6 L225.0,313.9 L227.7,312.1 L230.4,312.1 L233.0,311.8 L235.7,313.0 L238.4,315.7 L241.1,318.4 L243.8,320.2 L246.4,322.0 L250.0,322.9 L255.4,323.4" stroke="#008b00"/>
<path d="M254.9,323.0 L258.9,323.5 L262.8,324.3 L265.5,324.8 L268.2,324.6 L270.8,323.2 L273.5,320.6 L275.5,317.9 L277.5,317.9 L280.1,318.2 L282.8,317.6 L285.4,317.9 L288.1,317.2 L292.1,315.9" stroke="#008b00"/>
<path d="M34.6,349.3 L36.4,352.6 L38.6,357.0 L40.7,363.5 L42.9,372.3 L45.1,378.8 L46.9,385.4 L48.4,394.1 L49.5,383.2 L51.2,370.1 L52.8,359.2 L53.9,346.0 L55.6,341.7 L57.1,335.1 L58.7,330.7 L60.0,328.6 L61.7,348.2 L63.3,372.3 L64.3,387.6 L65.4,396.3 L66.5,387.6 L68.3,376.6 L69.8,367.9 L72.0,364.6 L74.2,364.6 L76.4,366.8 L77.9,378.8 L79.2,398.5 L80.1,416.0 L81.0,405.1 L81.8,376.6 L82.9,354.8 L84.0,339.5 L85.8,331.8 L87.3,328.6 L88.8,327.9 L112.9,327.9" stroke="#008b00"/>
<path d="M150.0,327.8 L161.3,327.8 L162.6,330.0 L164.6,332.6 L166.6,335.3 L168.6,338.6 L170.6,341.9 L172.6,345.9 L173.9,351.2 L175.2,356.6 L176.6,361.9 L177.9,363.2 L179.0,357.9 L179.9,353.2 L181.9,352.3 L183.9,352.8 L185.9,352.6 L187.9,351.9 L189.9,353.9 L191.9,357.9 L193.9,360.5 L195.8,363.2 L197.8,364.5 L199.2,367.8 L200.2,369.2 L201.8,364.5 L203.8,356.6 L205.8,353.9 L208.5,353.6 L211.1,353.6 L213.8,353.9 L215.8,354.6 L217.1,363.2 L218.4,357.9 L220.4,351.2 L222.4,348.6 L224.4,347.2 L226.4,346.6 L230.4,345.3" stroke="#008b00"/>
<path d="M230.4,342.7 L232.8,342.1 L235.4,342.1 L237.9,342.1 L240.5,342.1 L243.1,342.4 L245.7,342.1 L248.3,341.4 L250.9,340.8 L253.5,340.8 L256.1,340.8 L258.6,341.4 L261.2,341.7 L263.8,342.1 L266.4,342.4 L269.0,342.7 L270.9,341.4 L272.9,338.8 L274.8,336.2 L276.8,334.9 L279.3,334.7 L281.9,334.3 L284.5,333.9 L287.1,333.6 L289.7,333.0 L292.3,333.0" stroke="#008b00"/>
<path d="M34.7,270.2 L35.6,278.2 L37.0,288.9 L38.8,294.3 L40.9,296.4 L43.6,297.9 L46.3,299.3 L49.0,299.6 L50.2,298.8 L51.3,305.0 L52.5,312.1 L54.3,317.5 L57.0,321.1 L59.7,324.6 L62.4,327.3 L64.1,327.9 L114.1,327.9" stroke="#0000ff"/>
<path d="M119.6,327.9 L121.4,324.6 L123.2,321.1 L125.9,315.7 L128.6,310.4 L131.2,305.0 L133.9,301.4 L135.7,299.6 L137.5,303.2 L138.9,305.0 L140.2,301.4 L142.0,297.9 L143.8,294.3 L145.5,291.6 L147.3,295.2 L149.1,297.9 L150.9,297.0 L152.7,295.2 L153.6,301.4 L155.4,296.1 L157.1,293.4 L158.9,291.6 L160.7,293.4 L162.5,297.0 L164.3,300.5 L166.1,303.2 L167.9,301.4 L169.6,298.8 L171.4,301.4 L173.2,305.0 L175.0,301.4 L176.8,295.2 L178.6,299.6 L180.4,306.8" stroke="#0000ff"/>
<path d="M180.4,306.4 L183.0,310.4 L185.7,312.1 L189.3,313.0 L192.9,313.6 L196.4,313.6 L200.0,313.6 L203.6,313.9 L207.1,314.8 L210.7,315.7 L214.3,316.6 L217.9,317.5 L220.5,316.6 L223.2,314.8 L225.9,313.0 L228.6,312.1 L232.1,311.2 L234.8,311.8 L237.5,313.0 L240.2,313.9 L242.9,315.7 L245.5,319.3 L248.2,322.0 L250.9,322.9 L255.4,323.8" stroke="#0000ff"/>
<path d="M254.9,321.9 L257.5,321.9 L259.5,321.2 L260.8,322.6 L262.8,323.9 L265.5,324.6 L268.2,323.2 L270.8,322.6 L273.5,321.2 L274.8,316.6 L276.1,317.2 L278.1,317.9 L280.8,317.9 L283.4,316.6 L285.4,317.2 L287.4,317.9 L289.4,317.2 L292.1,316.6" stroke="#0000ff"/>
<path d="M34.6,350.4 L36.4,351.5 L38.6,354.8 L40.7,361.3 L42.9,370.1 L45.1,378.8 L46.9,389.8 L48.4,405.1 L49.9,387.6 L51.7,372.3 L53.4,354.8 L55.0,343.9 L56.5,337.3 L58.2,331.8 L60.0,329.7 L62.2,354.8 L63.9,376.6 L64.8,391.9 L66.5,385.4 L68.7,372.3 L70.9,365.7 L73.1,364.6 L75.3,365.7 L77.0,370.1 L77.9,387.6 L78.8,409.4 L79.4,419.3 L80.1,419.3 L80.7,409.4 L81.8,365.7 L82.9,339.5 L84.0,332.9 L85.8,329.7 L87.3,327.9 L112.9,327.9" stroke="#0000ff"/>
<path d="M112.1,327.8 L159.3,327.8 L160.6,330.0 L162.6,332.6 L164.6,335.3 L166.6,337.9 L168.6,341.3 L170.6,344.6 L171.9,348.6 L172.9,353.9 L173.9,361.9 L175.2,367.8 L176.3,361.9 L177.2,353.9 L178.6,351.2 L179.9,352.6 L181.9,351.9 L183.9,352.3 L185.9,351.9 L187.9,351.2 L189.2,355.2 L190.5,360.5 L192.5,361.9 L194.5,364.5 L196.5,367.2 L197.6,369.2 L198.5,365.9 L199.8,360.5 L201.8,356.6 L203.8,353.9 L205.8,353.2 L208.5,353.9 L210.5,353.2 L212.5,355.2 L213.8,364.5 L215.1,359.2 L217.1,352.6 L219.1,348.6 L221.1,347.2 L223.1,346.6 L225.1,345.9 L227.1,344.6 L230.4,343.3" stroke="#0000ff"/>
<path d="M230.4,342.7 L232.8,342.1 L235.4,342.1 L237.9,342.1 L240.5,341.4 L243.1,342.1 L245.7,341.4 L248.3,340.8 L250.9,340.1 L253.5,339.5 L256.1,339.9 L258.0,340.8 L259.9,342.1 L261.9,341.4 L263.8,341.4 L266.4,342.1 L269.0,342.4 L270.3,341.4 L271.6,338.8 L273.5,336.2 L275.5,335.6 L278.0,334.9 L280.6,334.7 L283.2,334.3 L285.8,334.3 L287.8,333.6 L289.0,332.6 L292.3,332.4" stroke="#0000ff"/>
</g>
<rect x="34.6" y="238" width="256.8" height="179.7" fill="none" stroke="#000" stroke-width="1.4"/>
<path d="M50.65,417.7v-2.8M50.65,238v2.8M66.7,417.7v-4.5M66.7,238v4.5M82.75,417.7v-2.8M82.75,238v2.8M98.8,417.7v-4.5M98.8,238v4.5M114.85,417.7v-2.8M114.85,238v2.8M130.9,417.7v-4.5M130.9,238v4.5M146.95,417.7v-2.8M146.95,238v2.8M163,417.7v-4.5M163,238v4.5M179.05,417.7v-2.8M179.05,238v2.8M195.1,417.7v-4.5M195.1,238v4.5M211.15,417.7v-2.8M211.15,238v2.8M227.2,417.7v-4.5M227.2,238v4.5M243.25,417.7v-2.8M243.25,238v2.8M259.3,417.7v-4.5M259.3,238v4.5M275.35,417.7v-2.8M275.35,238v2.8M34.6,406.47h2.8M291.4,406.47h-2.8M34.6,395.24h4.5M291.4,395.24h-4.5M34.6,384.01h2.8M291.4,384.01h-2.8M34.6,372.77h4.5M291.4,372.77h-4.5M34.6,361.54h2.8M291.4,361.54h-2.8M34.6,350.31h4.5M291.4,350.31h-4.5M34.6,339.08h2.8M291.4,339.08h-2.8M34.6,327.85h4.5M291.4,327.85h-4.5M34.6,316.62h2.8M291.4,316.62h-2.8M34.6,305.39h4.5M291.4,305.39h-4.5M34.6,294.16h2.8M291.4,294.16h-2.8M34.6,282.93h4.5M291.4,282.93h-4.5M34.6,271.69h2.8M291.4,271.69h-2.8M34.6,260.46h4.5M291.4,260.46h-4.5M34.6,249.23h2.8M291.4,249.23h-2.8" stroke="#000" stroke-width="1.3" fill="none"/>
<text x="32.6" y="422.1" text-anchor="end" textLength="15.20" lengthAdjust="spacingAndGlyphs" class="tl">-12</text>
<text x="32.6" y="399.64" text-anchor="end" textLength="9.50" lengthAdjust="spacingAndGlyphs" class="tl">-9</text>
<text x="32.6" y="377.17" text-anchor="end" textLength="9.50" lengthAdjust="spacingAndGlyphs" class="tl">-6</text>
<text x="32.6" y="354.71" text-anchor="end" textLength="9.50" lengthAdjust="spacingAndGlyphs" class="tl">-3</text>
<text x="32.6" y="332.25" text-anchor="end" textLength="5.70" lengthAdjust="spacingAndGlyphs" class="tl">0</text>
<text x="32.6" y="309.79" text-anchor="end" textLength="5.70" lengthAdjust="spacingAndGlyphs" class="tl">3</text>
<text x="32.6" y="287.32" text-anchor="end" textLength="5.70" lengthAdjust="spacingAndGlyphs" class="tl">6</text>
<text x="32.6" y="264.86" text-anchor="end" textLength="5.70" lengthAdjust="spacingAndGlyphs" class="tl">9</text>
<text x="32.6" y="242.4" text-anchor="end" textLength="11.40" lengthAdjust="spacingAndGlyphs" class="tl">12</text>
<text x="34.6" y="428.3" text-anchor="middle" textLength="9.50" lengthAdjust="spacingAndGlyphs" class="tl">-2</text>
<text x="66.7" y="428.3" text-anchor="middle" textLength="18.05" lengthAdjust="spacingAndGlyphs" class="tl">-1.5</text>
<text x="98.8" y="428.3" text-anchor="middle" textLength="9.50" lengthAdjust="spacingAndGlyphs" class="tl">-1</text>
<text x="130.9" y="428.3" text-anchor="middle" textLength="18.05" lengthAdjust="spacingAndGlyphs" class="tl">-0.5</text>
<text x="163" y="428.3" text-anchor="middle" textLength="5.70" lengthAdjust="spacingAndGlyphs" class="tl">0</text>
<text x="195.1" y="428.3" text-anchor="middle" textLength="14.25" lengthAdjust="spacingAndGlyphs" class="tl">0.5</text>
<text x="227.2" y="428.3" text-anchor="middle" textLength="5.70" lengthAdjust="spacingAndGlyphs" class="tl">1</text>
<text x="259.3" y="428.3" text-anchor="middle" textLength="14.25" lengthAdjust="spacingAndGlyphs" class="tl">1.5</text>
<text x="291.4" y="428.3" text-anchor="middle" textLength="5.70" lengthAdjust="spacingAndGlyphs" class="tl">2</text>
<rect x="229.2" y="243.1" width="53.4" height="46.5" fill="#fff" stroke="#000" stroke-width="1.3"/>
<line x1="232.1" y1="249.7" x2="243.6" y2="249.7" stroke="#000000" stroke-width="1.35"/>
<text x="248" y="253.7" textLength="32.5" lengthAdjust="spacingAndGlyphs" class="leg">x=0.25</text>
<line x1="232.1" y1="260.7" x2="243.6" y2="260.7" stroke="#ff0000" stroke-width="1.35"/>
<text x="248" y="264.7" textLength="32.5" lengthAdjust="spacingAndGlyphs" class="leg">x=0.50</text>
<line x1="232.1" y1="271.7" x2="243.6" y2="271.7" stroke="#008b00" stroke-width="1.35"/>
<text x="248" y="275.7" textLength="32.5" lengthAdjust="spacingAndGlyphs" class="leg">x=0.75</text>
<line x1="232.1" y1="282.8" x2="243.6" y2="282.8" stroke="#0000ff" stroke-width="1.35"/>
<text x="248" y="286.8" textLength="32.5" lengthAdjust="spacingAndGlyphs" class="leg">x=1.00</text>
<text x="138.7" y="440" textLength="48.5" lengthAdjust="spacingAndGlyphs" class="ax">E-E<tspan dy="4.9" font-size="9.6">f</tspan><tspan dy="-4.9">(eV)</tspan></text>
<text transform="translate(12.3,371.4) rotate(-90)" x="0" y="0" textLength="86.1" lengthAdjust="spacingAndGlyphs" class="ax">DOS (states/eV)</text>
<line x1="470.55" y1="239.8" x2="470.55" y2="419" stroke="#8c8c8c" stroke-width="1.0"/>
<line x1="342.6" y1="329.4" x2="598.5" y2="329.4" stroke="#8c8c8c" stroke-width="1.0"/>
<rect x="351.4" y="245.2" width="104" height="13" fill="#fff" stroke="#8a8a8a" stroke-width="1.2"/>
<text x="352.8" y="255.3" textLength="101.1" lengthAdjust="spacingAndGlyphs" class="lab">ZrCoTi[Si(1-x)Al(x)]</text>
<g clip-path="url(#cp4)" fill="none" stroke-width="1.5" stroke-linejoin="round">
<path d="M342.7,313.9 L344.5,315.7 L346.2,313.9 L348.0,310.4 L349.8,305.0 L351.6,296.1 L353.4,287.1 L355.2,278.2 L356.4,272.9 L357.9,280.0 L359.3,290.7 L360.5,299.6 L361.8,303.2 L363.2,301.4 L365.0,299.6 L366.8,299.6 L368.6,297.9 L370.4,296.1 L372.1,290.7 L373.6,286.2 L374.8,296.1 L375.7,308.6 L376.6,319.3 L377.5,324.6 L378.4,328.2 L379.3,329.3 L422.1,329.3" stroke="#000000"/>
<path d="M422.9,329.3 L424.6,324.6 L426.4,321.1 L428.2,317.5 L430.0,313.9 L431.8,310.4 L433.6,308.6 L435.4,306.8 L437.1,305.0 L438.9,303.2 L440.7,300.5 L442.5,297.9 L444.3,296.1 L446.1,295.2 L447.9,292.5 L449.6,289.8 L451.4,291.6 L453.2,297.0 L455.0,299.6 L456.8,301.4 L458.6,299.6 L460.4,296.1 L462.1,290.7 L463.9,283.6 L465.4,287.1 L466.6,288.9 L468.4,290.7 L470.2,293.4 L471.4,299.6 L472.9,308.6 L474.6,317.5 L476.4,323.8 L478.2,326.4 L480.0,327.3 L482.7,327.9 L485.4,327.3" stroke="#000000"/>
<path d="M485.4,326.4 L487.3,325.7 L489.7,325.4 L492.2,325.2 L494.6,324.2 L496.5,322.4 L497.7,320.5 L499.6,319.9 L502.0,319.5 L504.5,319.1 L506.9,318.1 L509.4,317.5 L511.8,316.2 L514.3,315.6 L516.8,315.9 L519.2,316.2 L521.7,316.6 L524.1,316.6 L526.6,316.6 L529.0,316.2 L531.5,316.6 L533.9,317.5 L535.8,318.1 L537.6,316.8 L539.5,315.0 L541.3,313.2 L543.2,311.3 L545.0,307.6" stroke="#000000"/>
<path d="M544.9,310.1 L546.0,303.9 L547.3,304.5 L548.7,307.0 L550.3,310.7 L552.2,316.8 L554.0,319.9 L555.9,321.7 L558.3,322.9 L560.8,323.6 L563.2,323.9 L565.7,324.4 L568.1,324.8 L570.6,325.4 L573.0,326.4 L575.5,327.2 L577.9,328.1 L580.4,328.8 L582.9,329.1 L585.3,329.1 L587.8,329.1 L590.2,328.8 L592.7,328.5 L595.1,327.2 L597.0,325.4 L598.8,324.2" stroke="#000000"/>
<path d="M342.6,376.6 L343.9,361.3 L345.5,352.6 L347.0,349.3 L349.2,349.3 L351.4,350.4 L353.6,354.8 L355.7,361.3 L357.9,370.1 L360.1,378.8 L362.3,387.6 L364.0,391.9 L365.8,385.4 L367.3,376.6 L368.4,381.0 L370.2,365.7 L371.7,352.6 L373.9,345.0 L376.1,340.6 L378.3,337.7 L379.8,337.3 L381.5,340.6 L383.3,354.8 L384.8,376.6 L386.3,398.5 L387.4,410.5 L388.5,398.5 L389.8,383.2 L391.6,372.3 L393.6,366.8 L395.7,364.6 L397.3,366.8 L399.0,372.3 L400.1,363.5 L401.6,348.2 L403.4,340.6 L405.6,336.2 L407.8,331.8 L409.5,329.4 L420.9,329.4" stroke="#000000"/>
<path d="M392.4,329.4 L488.1,329.4 L489.4,331.1 L490.7,334.3 L492.0,338.2 L493.3,341.4 L494.6,344.6 L495.9,347.9 L497.2,353.1 L498.5,358.2 L499.8,363.4 L501.1,360.8 L503.0,356.9 L504.9,355.9 L506.9,356.9 L508.8,357.6 L510.8,356.9 L512.7,356.7 L514.0,359.5 L515.3,363.4 L517.2,366.0 L519.2,367.9 L521.1,369.2 L522.4,371.2 L523.7,366.0 L525.6,360.8 L527.6,358.9 L529.5,358.2 L531.5,358.9 L533.4,356.9 L535.3,354.3 L537.3,353.1 L540.5,352.8" stroke="#000000"/>
<path d="M540.4,352.8 L542.1,350.5 L543.4,348.5 L544.7,349.2 L546.0,353.0 L546.9,350.5 L547.9,346.6 L549.2,344.0 L550.5,342.7 L552.5,343.3 L554.4,344.0 L557.0,343.7 L559.6,343.3 L562.2,342.7 L564.7,342.4 L567.3,342.0 L569.9,341.7 L572.5,341.4 L575.1,341.1 L577.7,341.4 L580.3,341.7 L582.2,342.7 L583.5,345.9 L585.4,347.2 L587.4,346.6 L589.3,344.6 L591.3,342.7 L593.2,340.8 L595.1,338.8 L597.1,337.5 L599.0,336.9" stroke="#000000"/>
<path d="M342.7,308.6 L344.5,305.0 L346.2,308.6 L348.0,312.1 L349.8,313.9 L351.6,312.1 L353.4,308.6 L355.2,303.2 L357.0,296.1 L358.8,287.1 L360.5,278.2 L361.8,274.6 L363.2,280.0 L365.0,285.4 L366.8,288.9 L368.6,290.7 L370.4,292.5 L372.1,296.1 L373.9,299.6 L375.7,301.4 L377.5,297.9 L378.9,291.6 L380.2,296.1 L381.4,305.0 L382.9,313.9 L384.6,321.1 L386.4,325.5 L388.2,328.2 L390.0,329.3 L422.1,329.3" stroke="#ff0000"/>
<path d="M425.5,329.3 L427.3,324.6 L429.1,321.1 L430.9,317.5 L432.7,313.9 L434.5,310.4 L436.2,307.7 L438.0,305.0 L439.8,302.3 L441.6,299.6 L443.4,297.0 L445.2,294.3 L447.0,291.6 L448.8,289.8 L450.5,289.8 L452.3,292.5 L454.1,296.1 L455.9,298.8 L457.7,300.5 L459.5,300.5 L461.2,298.8 L463.0,295.2 L464.8,292.5 L466.6,290.7 L468.4,288.9 L469.6,288.0 L471.1,290.7 L472.5,296.1 L474.3,305.0 L476.1,313.9 L477.9,321.1 L479.6,324.6 L481.8,326.4 L485.4,327.3" stroke="#ff0000"/>
<path d="M485.4,326.9 L487.3,326.4 L489.7,326.1 L492.2,325.7 L494.6,325.2 L497.1,323.6 L499.6,321.8 L502.0,320.5 L504.5,319.9 L506.9,319.1 L509.4,318.1 L511.8,316.8 L514.3,316.2 L516.8,315.6 L519.2,315.6 L521.7,315.9 L524.1,316.2 L526.6,316.6 L529.0,316.6 L531.5,316.8 L533.9,317.1 L536.4,317.5 L538.9,317.8 L541.3,317.5 L545.0,316.8" stroke="#ff0000"/>
<path d="M544.9,314.0 L547.3,312.5 L549.7,311.3 L552.2,310.1 L554.0,308.8 L555.6,306.4 L556.5,305.2 L557.3,308.2 L558.3,313.1 L559.5,316.8 L561.4,319.9 L563.8,321.7 L566.9,322.9 L570.0,324.2 L573.0,325.4 L576.1,326.6 L579.2,327.6 L582.2,328.5 L585.3,329.1 L589.0,328.8 L592.7,328.5 L596.4,328.1 L598.8,327.9" stroke="#ff0000"/>
<path d="M342.6,385.4 L343.9,365.7 L345.5,354.8 L347.0,349.3 L349.2,348.2 L351.4,349.3 L353.6,352.6 L355.7,359.2 L357.9,367.9 L360.1,378.8 L362.3,389.8 L364.5,397.4 L365.8,399.6 L367.1,391.9 L368.4,376.6 L369.9,363.5 L371.7,350.4 L373.9,345.0 L376.1,343.9 L378.3,342.8 L380.4,341.7 L382.0,343.9 L383.7,354.8 L385.9,365.7 L388.1,376.6 L389.8,386.5 L391.4,381.0 L392.9,372.3 L394.6,365.7 L396.4,362.4 L397.9,361.3 L399.5,361.3 L401.2,360.3 L403.0,357.0 L404.5,350.4 L406.0,343.9 L407.8,338.4 L409.5,334.0 L411.0,330.7 L412.1,329.4 L420.9,329.4" stroke="#ff0000"/>
<path d="M392.4,329.4 L488.8,329.4 L490.1,331.7 L491.3,334.9 L492.6,338.8 L493.9,342.7 L495.2,346.6 L496.5,349.2 L497.8,353.1 L499.1,357.6 L500.4,360.8 L501.7,362.1 L503.4,360.8 L504.9,360.8 L506.9,362.1 L508.8,362.8 L510.8,361.5 L512.7,360.2 L514.6,362.1 L516.6,364.7 L518.5,366.0 L520.5,366.6 L522.4,366.6 L524.3,367.3 L526.3,366.6 L528.2,364.7 L530.2,362.1 L532.1,358.9 L534.0,355.6 L536.0,353.7 L537.9,353.1 L540.5,352.4" stroke="#ff0000"/>
<path d="M540.4,352.4 L542.1,353.0 L543.4,351.7 L544.7,347.9 L546.0,345.3 L547.3,343.3 L549.2,342.7 L551.8,343.3 L554.4,344.0 L557.0,343.7 L559.6,343.3 L562.2,343.0 L564.7,342.7 L567.3,342.4 L569.9,342.0 L572.5,341.7 L575.1,341.4 L577.7,341.4 L580.3,341.7 L582.9,342.0 L585.4,343.3 L587.4,344.0 L589.3,345.3 L590.6,347.2 L591.9,349.2 L593.2,347.2 L594.5,344.0 L595.8,340.8 L597.1,339.5 L599.0,338.8" stroke="#ff0000"/>
<path d="M342.7,297.9 L344.5,292.5 L346.2,290.7 L348.0,294.3 L349.8,301.4 L351.6,306.8 L353.4,310.4 L355.2,313.0 L357.0,312.1 L358.8,308.6 L360.5,305.0 L362.3,301.4 L364.1,297.9 L365.9,294.3 L367.7,290.7 L369.5,288.9 L371.2,290.7 L373.0,292.5 L374.8,294.3 L376.6,296.1 L378.4,297.9 L380.2,299.6 L382.0,298.8 L384.6,297.9 L386.8,298.8 L387.9,303.2 L389.1,308.6 L390.9,315.7 L392.7,321.1 L394.5,325.5 L396.2,328.2 L398.0,329.3 L422.1,329.3" stroke="#008b00"/>
<path d="M428.2,329.3 L430.0,324.6 L431.8,321.1 L433.6,317.5 L435.4,313.9 L437.1,311.2 L438.9,309.5 L440.7,308.6 L442.5,306.8 L444.3,303.2 L446.1,299.6 L447.5,295.2 L448.8,291.6 L450.5,289.8 L452.3,290.7 L454.1,293.4 L455.9,296.1 L457.7,297.0 L459.5,297.9 L461.2,298.8 L463.0,296.1 L464.8,293.4 L466.6,290.7 L468.4,288.9 L470.2,288.0 L472.0,289.8 L473.8,293.4 L475.5,299.6 L477.3,308.6 L479.1,315.7 L480.9,321.1 L482.7,324.6 L485.4,326.4" stroke="#008b00"/>
<path d="M485.4,326.1 L487.3,326.4 L489.7,326.7 L492.2,326.4 L494.6,325.7 L497.1,324.8 L499.6,323.6 L502.0,322.4 L504.5,321.1 L506.9,319.9 L509.4,319.1 L511.8,318.3 L514.3,317.8 L516.8,317.5 L519.2,316.8 L521.7,316.6 L524.1,316.6 L526.6,316.6 L529.0,316.4 L531.5,316.5 L533.9,316.6 L536.4,316.8 L538.9,316.8 L541.3,316.6 L545.0,316.2" stroke="#008b00"/>
<path d="M544.9,316.6 L546.0,316.6 L548.5,315.0 L551.0,313.7 L553.4,313.1 L555.9,312.9 L558.3,312.5 L560.8,312.2 L562.6,310.1 L563.8,307.6 L564.7,310.7 L565.9,315.6 L567.5,320.5 L569.4,322.3 L571.8,322.9 L574.3,323.9 L576.7,324.8 L579.2,325.6 L581.6,326.6 L584.1,327.6 L586.5,328.5 L589.0,329.1 L592.7,329.1 L596.4,328.8 L598.8,328.5" stroke="#008b00"/>
<path d="M342.6,374.5 L343.9,361.3 L345.5,353.7 L347.0,350.4 L349.2,350.0 L351.4,350.4 L353.6,353.7 L355.7,360.3 L357.9,370.1 L360.1,383.2 L362.3,396.3 L364.0,406.2 L365.8,387.6 L367.3,367.9 L369.5,359.2 L371.7,352.6 L373.9,348.2 L376.1,345.0 L378.9,342.8 L381.1,337.3 L382.6,346.0 L384.8,359.2 L387.0,370.1 L389.2,381.0 L390.7,378.8 L392.5,372.3 L394.6,365.7 L396.8,362.4 L399.0,363.5 L401.2,365.7 L403.0,363.5 L404.5,357.0 L406.7,350.4 L408.9,343.9 L411.0,337.3 L413.2,332.9 L415.4,329.4 L420.9,329.4" stroke="#008b00"/>
<path d="M392.4,329.4 L489.4,329.4 L490.7,331.7 L492.0,334.9 L493.3,338.8 L494.6,342.7 L495.9,346.6 L497.2,349.8 L498.5,353.1 L499.8,356.3 L501.1,359.5 L502.3,363.4 L503.9,364.7 L505.6,365.3 L507.5,366.0 L509.5,365.3 L511.4,363.4 L513.3,362.1 L515.3,363.4 L517.2,364.7 L519.2,364.7 L521.1,364.7 L523.0,364.1 L525.0,363.4 L526.9,364.7 L528.9,366.6 L530.8,364.7 L532.8,360.8 L534.7,356.3 L536.6,354.3 L538.6,353.7 L540.5,353.1" stroke="#008b00"/>
<path d="M540.4,353.0 L542.1,352.8 L543.4,350.5 L544.7,346.6 L546.0,344.0 L547.3,342.7 L549.2,342.4 L551.8,343.0 L554.4,343.3 L557.0,343.0 L559.6,342.7 L562.2,342.4 L564.7,342.0 L567.3,341.7 L569.9,341.4 L572.5,341.1 L575.1,340.8 L577.7,340.4 L580.3,341.1 L582.9,341.7 L585.4,342.0 L588.0,342.4 L590.6,343.0 L592.6,344.6 L593.9,344.0 L595.1,343.3 L596.4,345.3 L597.7,347.2 L599.0,347.9" stroke="#008b00"/>
<path d="M342.7,296.1 L343.6,287.1 L345.0,280.0 L346.8,276.4 L348.6,275.5 L350.4,278.2 L352.1,285.4 L353.9,292.5 L355.7,299.6 L357.5,305.0 L359.3,308.6 L361.1,310.4 L362.9,308.6 L364.6,306.8 L366.4,305.0 L368.2,303.2 L370.0,300.5 L371.8,297.0 L373.6,294.3 L375.4,294.3 L377.1,296.1 L378.9,297.9 L380.7,299.6 L382.5,300.5 L384.3,301.4 L386.4,300.5 L389.1,298.8 L390.9,298.2 L392.1,299.6 L393.6,305.0 L395.4,310.4 L397.5,315.7 L399.8,320.2 L402.5,323.8 L405.2,326.4 L407.9,328.2 L410.5,329.3 L422.1,329.3" stroke="#0000ff"/>
<path d="M405.0,329.3 L436.2,329.3 L438.0,321.1 L439.8,315.7 L441.6,312.1 L443.4,310.4 L446.1,308.6 L447.9,305.0 L449.6,299.6 L451.4,292.5 L452.9,287.1 L454.1,285.4 L455.9,288.0 L457.7,290.7 L459.5,293.4 L461.2,295.2 L463.0,295.2 L464.8,293.4 L466.6,292.5 L468.4,291.6 L470.2,292.5 L472.0,293.4 L473.8,293.4 L475.5,290.7 L476.8,288.9 L478.2,292.5 L480.0,297.9 L481.8,303.2 L483.6,306.8 L485.4,308.6" stroke="#0000ff"/>
<path d="M485.4,308.6 L486.7,314.4 L487.9,319.3 L489.1,323.0 L491.0,326.1 L492.8,327.9 L494.6,328.5 L496.5,327.9 L498.3,327.3 L500.2,326.7 L502.0,325.4 L504.5,323.6 L506.9,321.1 L509.4,320.5 L511.8,320.3 L514.3,319.9 L516.8,319.3 L519.2,319.1 L521.7,318.7 L524.1,317.5 L526.6,316.8 L529.0,316.6 L531.5,316.8 L533.9,317.1 L536.4,316.8 L538.9,316.6 L541.3,316.6 L545.0,316.6" stroke="#0000ff"/>
<path d="M544.9,316.8 L546.0,316.8 L549.7,316.6 L553.4,316.2 L555.9,315.0 L558.3,314.4 L560.8,314.1 L563.2,313.7 L565.7,313.4 L568.1,313.1 L570.0,312.9 L571.6,312.2 L572.4,313.7 L573.7,316.8 L575.5,319.9 L577.3,321.7 L579.2,322.9 L581.6,324.2 L584.1,325.2 L586.5,326.0 L589.0,326.9 L591.4,327.9 L593.9,328.8 L596.4,329.3 L598.8,329.3" stroke="#0000ff"/>
<path d="M342.6,381.0 L343.9,374.5 L345.5,365.7 L347.7,357.0 L349.8,351.5 L352.0,350.4 L354.2,352.6 L356.4,357.0 L358.6,365.7 L360.8,376.6 L363.0,387.6 L365.1,398.5 L366.2,401.8 L368.0,387.6 L369.5,370.1 L371.7,357.0 L373.9,352.6 L376.1,349.3 L378.3,347.1 L380.4,347.1 L382.6,349.3 L384.8,346.0 L386.3,347.1 L388.1,354.8 L389.8,363.5 L391.4,369.0 L393.6,366.8 L395.7,363.5 L397.9,361.3 L400.1,360.3 L402.3,359.2 L404.5,357.0 L406.7,354.8 L408.9,353.7 L411.0,352.6 L413.2,350.4 L415.4,348.2 L417.6,346.0 L419.1,342.8 L420.4,341.2" stroke="#0000ff"/>
<path d="M420.4,341.1 L421.6,338.2 L422.9,334.9 L424.5,332.1 L426.2,330.3 L428.1,329.4 L480.5,329.4" stroke="#0000ff"/>
<path d="M470.0,329.4 L490.7,329.4 L492.0,331.1 L493.3,333.6 L494.6,337.5 L495.9,342.7 L497.2,349.2 L498.5,349.8 L500.0,351.1 L501.7,354.3 L503.6,358.2 L505.6,364.7 L507.5,373.1 L508.8,369.9 L510.8,367.3 L512.7,364.7 L514.6,363.4 L515.9,362.8 L517.2,360.8 L518.5,363.4 L520.5,366.6 L522.4,366.0 L524.3,364.7 L526.3,362.1 L528.2,364.7 L530.2,369.9 L531.1,371.8 L532.1,367.3 L534.0,360.8 L536.0,355.6 L537.3,356.9 L538.6,363.4 L540.5,358.2" stroke="#0000ff"/>
<path d="M540.4,358.2 L541.5,354.3 L542.5,351.7 L543.4,349.2 L544.3,345.3 L545.3,341.4 L546.4,339.5 L547.9,339.8 L549.9,340.1 L551.8,340.8 L553.8,341.4 L555.0,343.0 L556.3,343.3 L558.3,342.7 L560.9,342.0 L563.5,341.7 L566.0,341.4 L568.6,341.4 L571.2,341.1 L573.8,341.1 L576.4,341.1 L579.0,341.1 L581.6,341.1 L584.2,341.1 L586.7,341.1 L589.3,341.4 L591.9,341.7 L594.5,342.0 L597.1,342.4 L599.0,342.7" stroke="#0000ff"/>
</g>
<rect x="342.6" y="239.8" width="255.9" height="179.2" fill="none" stroke="#000" stroke-width="1.4"/>
<path d="M358.59,419v-2.8M358.59,239.8v2.8M374.59,419v-4.5M374.59,239.8v4.5M390.58,419v-2.8M390.58,239.8v2.8M406.58,419v-4.5M406.58,239.8v4.5M422.57,419v-2.8M422.57,239.8v2.8M438.56,419v-4.5M438.56,239.8v4.5M454.56,419v-2.8M454.56,239.8v2.8M470.55,419v-4.5M470.55,239.8v4.5M486.54,419v-2.8M486.54,239.8v2.8M502.54,419v-4.5M502.54,239.8v4.5M518.53,419v-2.8M518.53,239.8v2.8M534.52,419v-4.5M534.52,239.8v4.5M550.52,419v-2.8M550.52,239.8v2.8M566.51,419v-4.5M566.51,239.8v4.5M582.51,419v-2.8M582.51,239.8v2.8M342.6,407.8h2.8M598.5,407.8h-2.8M342.6,396.6h4.5M598.5,396.6h-4.5M342.6,385.4h2.8M598.5,385.4h-2.8M342.6,374.2h4.5M598.5,374.2h-4.5M342.6,363h2.8M598.5,363h-2.8M342.6,351.8h4.5M598.5,351.8h-4.5M342.6,340.6h2.8M598.5,340.6h-2.8M342.6,329.4h4.5M598.5,329.4h-4.5M342.6,318.2h2.8M598.5,318.2h-2.8M342.6,307h4.5M598.5,307h-4.5M342.6,295.8h2.8M598.5,295.8h-2.8M342.6,284.6h4.5M598.5,284.6h-4.5M342.6,273.4h2.8M598.5,273.4h-2.8M342.6,262.2h4.5M598.5,262.2h-4.5M342.6,251h2.8M598.5,251h-2.8" stroke="#000" stroke-width="1.3" fill="none"/>
<text x="340.6" y="423.4" text-anchor="end" textLength="15.20" lengthAdjust="spacingAndGlyphs" class="tl">-12</text>
<text x="340.6" y="401" text-anchor="end" textLength="9.50" lengthAdjust="spacingAndGlyphs" class="tl">-9</text>
<text x="340.6" y="378.6" text-anchor="end" textLength="9.50" lengthAdjust="spacingAndGlyphs" class="tl">-6</text>
<text x="340.6" y="356.2" text-anchor="end" textLength="9.50" lengthAdjust="spacingAndGlyphs" class="tl">-3</text>
<text x="340.6" y="333.8" text-anchor="end" textLength="5.70" lengthAdjust="spacingAndGlyphs" class="tl">0</text>
<text x="340.6" y="311.4" text-anchor="end" textLength="5.70" lengthAdjust="spacingAndGlyphs" class="tl">3</text>
<text x="340.6" y="289" text-anchor="end" textLength="5.70" lengthAdjust="spacingAndGlyphs" class="tl">6</text>
<text x="340.6" y="266.6" text-anchor="end" textLength="5.70" lengthAdjust="spacingAndGlyphs" class="tl">9</text>
<text x="340.6" y="244.2" text-anchor="end" textLength="11.40" lengthAdjust="spacingAndGlyphs" class="tl">12</text>
<text x="342.6" y="430.3" text-anchor="middle" textLength="9.50" lengthAdjust="spacingAndGlyphs" class="tl">-2</text>
<text x="374.59" y="430.3" text-anchor="middle" textLength="18.05" lengthAdjust="spacingAndGlyphs" class="tl">-1.5</text>
<text x="406.58" y="430.3" text-anchor="middle" textLength="9.50" lengthAdjust="spacingAndGlyphs" class="tl">-1</text>
<text x="438.56" y="430.3" text-anchor="middle" textLength="18.05" lengthAdjust="spacingAndGlyphs" class="tl">-0.5</text>
<text x="470.55" y="430.3" text-anchor="middle" textLength="5.70" lengthAdjust="spacingAndGlyphs" class="tl">0</text>
<text x="502.54" y="430.3" text-anchor="middle" textLength="14.25" lengthAdjust="spacingAndGlyphs" class="tl">0.5</text>
<text x="534.52" y="430.3" text-anchor="middle" textLength="5.70" lengthAdjust="spacingAndGlyphs" class="tl">1</text>
<text x="566.51" y="430.3" text-anchor="middle" textLength="14.25" lengthAdjust="spacingAndGlyphs" class="tl">1.5</text>
<text x="598.5" y="430.3" text-anchor="middle" textLength="5.70" lengthAdjust="spacingAndGlyphs" class="tl">2</text>
<rect x="537.1" y="244.7" width="53.1" height="46.3" fill="#fff" stroke="#000" stroke-width="1.3"/>
<line x1="539.6" y1="251.7" x2="550.9" y2="251.7" stroke="#000000" stroke-width="1.35"/>
<text x="555.5" y="255.7" textLength="32.3" lengthAdjust="spacingAndGlyphs" class="leg">x=0.25</text>
<line x1="539.6" y1="262.4" x2="550.9" y2="262.4" stroke="#ff0000" stroke-width="1.35"/>
<text x="555.5" y="266.4" textLength="32.3" lengthAdjust="spacingAndGlyphs" class="leg">x=0.50</text>
<line x1="539.6" y1="272.9" x2="550.9" y2="272.9" stroke="#008b00" stroke-width="1.35"/>
<text x="555.5" y="276.9" textLength="32.3" lengthAdjust="spacingAndGlyphs" class="leg">x=0.75</text>
<line x1="539.6" y1="284.5" x2="550.9" y2="284.5" stroke="#0000ff" stroke-width="1.35"/>
<text x="555.5" y="288.5" textLength="32.3" lengthAdjust="spacingAndGlyphs" class="leg">x=1.00</text>
<text x="444.5" y="441.9" textLength="51.4" lengthAdjust="spacingAndGlyphs" class="ax">E-E<tspan dy="4.9" font-size="9.6">f</tspan><tspan dy="-4.9"> (eV)</tspan></text>
<text transform="translate(320.6,373.2) rotate(-90)" x="0" y="0" textLength="86.8" lengthAdjust="spacingAndGlyphs" class="ax">DOS (states/eV)</text>
</svg></body></html>
